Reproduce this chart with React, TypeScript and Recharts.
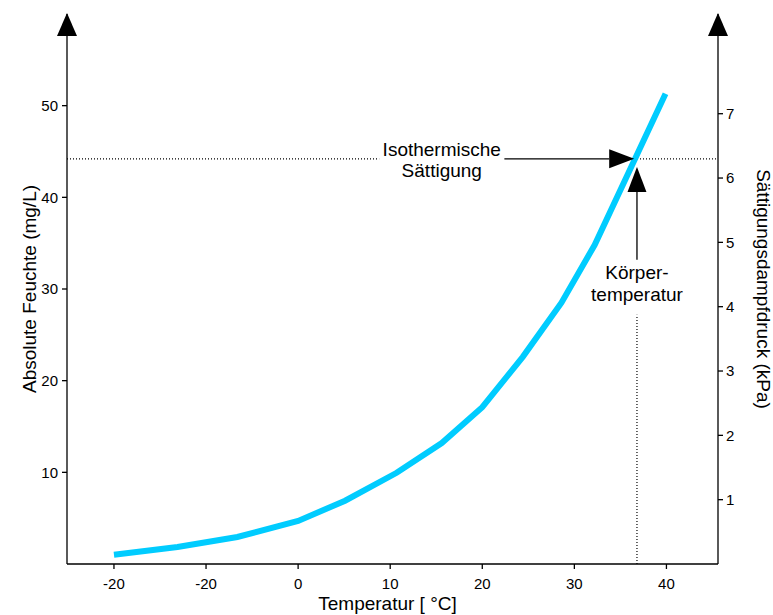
import {
  LineChart,
  Line,
  XAxis,
  YAxis,
  ReferenceLine,
  ReferenceDot,
  Label,
} from 'recharts'

// curve: temperature (°C) -> absolute humidity (mg/L)
const temps = [-20, -13.1, -6.6, 0, 5.1, 10.7, 15.6, 20, 24.4, 28.6, 32.2, 39.9]
const humidity = [1.0, 1.85, 2.95, 4.7, 6.9, 9.95, 13.2, 17.1, 22.6, 28.5, 34.8, 51.3]

const tempTicks = [-20, -10, 0, 10, 20, 30, 40]
// the original figure labels the -10 tick as "-20"
const tempTickLabels = ['-20', '-20', '0', '10', '20', '30', '40']
const humidityTicks = [10, 20, 30, 40, 50]
const pressureTicks = [1, 2, 3, 4, 5, 6, 7]

const bodyTemp = 36.8
const isoHumidity = 44.2

const data = temps.map((t, i) => ({ t, h: humidity[i] }))

const FONT = '"Liberation Sans", Arial, Helvetica, sans-serif'
const X_MIN = -25.1
const X_MAX = 45.6

const AxisArrow = (props: any) => {
  const { cx, cy } = props
  return (
    <polygon
      points={`${cx},${cy - 1} ${cx - 10},${cy + 22} ${cx + 10},${cy + 22}`}
      fill="#000"
    />
  )
}

const ArrowLine = (props: any) => {
  const { x1, y1, x2, y2 } = props
  const len = Math.hypot(x2 - x1, y2 - y1) || 1
  const ux = (x2 - x1) / len
  const uy = (y2 - y1) / len
  const bx = x2 - ux * 25
  const by = y2 - uy * 25
  const px = -uy * 9.5
  const py = ux * 9.5
  return (
    <g>
      <line x1={x1} y1={y1} x2={bx} y2={by} stroke="#000" strokeWidth={1.3} />
      <polygon
        points={`${x2},${y2} ${bx + px},${by + py} ${bx - px},${by - py}`}
        fill="#000"
      />
    </g>
  )
}

const TwoLines = (lines: string[], dy1: number, dy2: number) => (props: any) => {
  const { cx, cy } = props
  return (
    <text x={cx} textAnchor="middle" fontSize={19} fontFamily={FONT} fill="#000">
      <tspan x={cx} y={cy + dy1}>{lines[0]}</tspan>
      <tspan x={cx} y={cy + dy2}>{lines[1]}</tspan>
    </text>
  )
}

export default function App() {
  return (
    <div style={{ position: 'absolute', left: 0, top: 0, background: '#fff' }}>
      <LineChart
        width={773}
        height={615}
        data={data}
        margin={{ top: 14, right: 0, bottom: 0, left: 0 }}
      >
        <XAxis
          dataKey="t"
          type="number"
          domain={[X_MIN, X_MAX]}
          ticks={tempTicks}
          tickFormatter={(v: number) => tempTickLabels[tempTicks.indexOf(v)] ?? String(v)}
          allowDataOverflow
          height={51}
          stroke="#000"
          strokeWidth={1.3}
          tickSize={5}
          tickMargin={9}
          tick={{ fill: '#000', fontSize: 15, fontFamily: FONT }}
        >
          <Label
            content={(p: any) => (
              <text
                x={p.viewBox.x + p.viewBox.width / 2 - 5}
                y={p.viewBox.y + 46}
                textAnchor="middle"
                fontSize={19}
                fontFamily={FONT}
                fill="#000"
              >
                Temperatur [ °C]
              </text>
            )}
          />
        </XAxis>
        <YAxis
          yAxisId="left"
          type="number"
          domain={[0, 60]}
          ticks={humidityTicks}
          allowDataOverflow
          width={67}
          stroke="#000"
          strokeWidth={1.3}
          tickSize={5}
          tickMargin={4}
          tick={{ fill: '#000', fontSize: 15, fontFamily: FONT }}
        >
          <Label
            content={(p: any) => {
              const x = p.viewBox.x + 36
              const y = p.viewBox.y + p.viewBox.height / 2
              return (
                <text
                  x={x}
                  y={y}
                  transform={`rotate(-90 ${x} ${y})`}
                  textAnchor="middle"
                  fontSize={19}
                  fontFamily={FONT}
                  fill="#000"
                >
                  Absolute Feuchte (mg/L)
                </text>
              )
            }}
          />
        </YAxis>
        <YAxis
          yAxisId="right"
          orientation="right"
          type="number"
          domain={[0, 8.55]}
          ticks={pressureTicks}
          allowDataOverflow
          width={55}
          stroke="#000"
          strokeWidth={1.3}
          tickSize={5}
          tickMargin={3}
          tick={{ fill: '#000', fontSize: 15, fontFamily: FONT }}
        >
          <Label
            content={(p: any) => {
              const x = p.viewBox.x + 39
              const y = p.viewBox.y + p.viewBox.height / 2
              return (
                <text
                  x={x}
                  y={y}
                  transform={`rotate(90 ${x} ${y})`}
                  textAnchor="middle"
                  fontSize={19}
                  fontFamily={FONT}
                  fill="#000"
                >
                  Sättigungsdampfdruck (kPa)
                </text>
              )
            }}
          />
        </YAxis>

        {/* dotted guide lines */}
        <ReferenceLine
          yAxisId="left"
          segment={[{ x: X_MIN, y: isoHumidity }, { x: 8.8, y: isoHumidity }]}
          stroke="#000"
          strokeWidth={1.2}
          strokeDasharray="1 2"
        />
        <ReferenceLine
          yAxisId="left"
          segment={[{ x: bodyTemp, y: isoHumidity }, { x: X_MAX, y: isoHumidity }]}
          stroke="#000"
          strokeWidth={1.2}
          strokeDasharray="1 2"
        />
        <ReferenceLine
          yAxisId="left"
          segment={[{ x: bodyTemp, y: 0 }, { x: bodyTemp, y: 27.2 }]}
          stroke="#000"
          strokeWidth={1.2}
          strokeDasharray="1 2"
        />

        <Line
          yAxisId="left"
          dataKey="h"
          type="linear"
          stroke="#00CCFF"
          strokeWidth={6}
          dot={false}
          activeDot={false}
          isAnimationActive={false}
        />

        {/* annotation arrows */}
        <ReferenceLine
          yAxisId="left"
          segment={[{ x: 22.4, y: isoHumidity }, { x: 36.5, y: isoHumidity }]}
          shape={ArrowLine}
        />
        <ReferenceLine
          yAxisId="left"
          segment={[{ x: bodyTemp, y: 33.2 }, { x: bodyTemp, y: 43.3 }]}
          shape={ArrowLine}
        />
        <ReferenceDot
          yAxisId="left"
          x={15.6}
          y={isoHumidity}
          r={0}
          ifOverflow="visible"
          shape={TwoLines(['Isothermische', 'Sättigung'], -3, 18)}
        />
        <ReferenceDot
          yAxisId="left"
          x={bodyTemp}
          y={30}
          r={0}
          ifOverflow="visible"
          shape={TwoLines(['Körper-', 'temperatur'], -10, 12)}
        />

        {/* arrow heads on top of both vertical axes */}
        <ReferenceDot yAxisId="left" x={X_MIN} y={60} r={0} ifOverflow="visible" shape={AxisArrow} />
        <ReferenceDot yAxisId="left" x={X_MAX} y={60} r={0} ifOverflow="visible" shape={AxisArrow} />
      </LineChart>
    </div>
  )
}
